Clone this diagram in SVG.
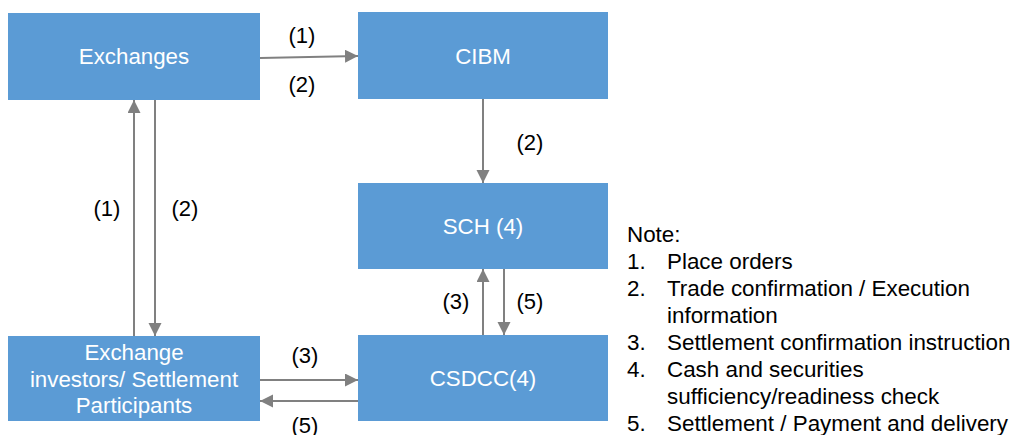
<svg xmlns="http://www.w3.org/2000/svg" width="1015" height="435" viewBox="0 0 1015 435">
<style>
.box{fill:#5B9BD5;}
.bt{fill:#ffffff;font-family:"Liberation Sans",Arial,sans-serif;font-size:22.3px;text-anchor:middle;}
.lbl{fill:#000000;font-family:"Liberation Sans",Arial,sans-serif;font-size:22px;text-anchor:middle;}
.note{fill:#000000;font-family:"Liberation Sans",Arial,sans-serif;font-size:22.4px;}
.ln{stroke:#808080;stroke-width:2;fill:none;marker-end:url(#ah);}
</style>
<defs>
<marker id="ah" markerUnits="userSpaceOnUse" markerWidth="14" markerHeight="14" refX="13" refY="6.5" orient="auto">
<path d="M0,0 L13,6.5 L0,13 Z" fill="#808080"/>
</marker>
</defs>
<rect width="1015" height="435" fill="#ffffff"/>
<g id="exchanges"><rect class="box" x="8" y="13" width="252" height="87"/><text class="bt" x="134" y="64">Exchanges</text></g>
<g id="cibm"><rect class="box" x="358" y="12" width="250" height="87"/><text class="bt" x="483" y="64">CIBM</text></g>
<g id="sch"><rect class="box" x="358" y="183" width="250" height="86"/><text class="bt" x="483" y="234">SCH (4)</text></g>
<g id="csdcc"><rect class="box" x="358" y="335" width="250" height="86"/><text class="bt" x="483" y="386">CSDCC(4)</text></g>
<g id="investors"><rect class="box" x="8" y="336" width="252" height="85"/><text class="bt" x="134" y="360">Exchange</text><text class="bt" x="134" y="387">investors/ Settlement</text><text class="bt" x="134" y="413">Participants</text></g>
<g id="connectors">
<line class="ln" x1="260" y1="58" x2="358" y2="56"/>
<line class="ln" x1="134" y1="336" x2="134" y2="100"/>
<line class="ln" x1="155" y1="100" x2="155" y2="336"/>
<line class="ln" x1="483" y1="99" x2="483" y2="183"/>
<line class="ln" x1="483" y1="335" x2="483" y2="269"/>
<line class="ln" x1="504" y1="269" x2="504" y2="335"/>
<line class="ln" x1="260" y1="380" x2="358" y2="380"/>
<line class="ln" x1="358" y1="401" x2="260" y2="401"/>
<text class="lbl" x="302" y="43">(1)</text>
<text class="lbl" x="302" y="92">(2)</text>
<text class="lbl" x="107" y="216">(1)</text>
<text class="lbl" x="185" y="216">(2)</text>
<text class="lbl" x="530" y="150">(2)</text>
<text class="lbl" x="456" y="309">(3)</text>
<text class="lbl" x="530" y="309">(5)</text>
<text class="lbl" x="305" y="363">(3)</text>
<text class="lbl" x="305" y="433">(5)</text>
</g>
<g id="note">
<text class="note" x="627" y="242">Note:</text>
<text class="note" x="627" y="269">1.</text><text class="note" x="667" y="269">Place orders</text>
<text class="note" x="627" y="296">2.</text><text class="note" x="667" y="296">Trade confirmation / Execution</text>
<text class="note" x="667" y="323">information</text>
<text class="note" x="627" y="350">3.</text><text class="note" x="667" y="350">Settlement confirmation instruction</text>
<text class="note" x="627" y="377">4.</text><text class="note" x="667" y="377">Cash and securities</text>
<text class="note" x="667" y="404">sufficiency/readiness check</text>
<text class="note" x="627" y="431">5.</text><text class="note" x="667" y="431">Settlement / Payment and delivery</text>
</g>
</svg>
